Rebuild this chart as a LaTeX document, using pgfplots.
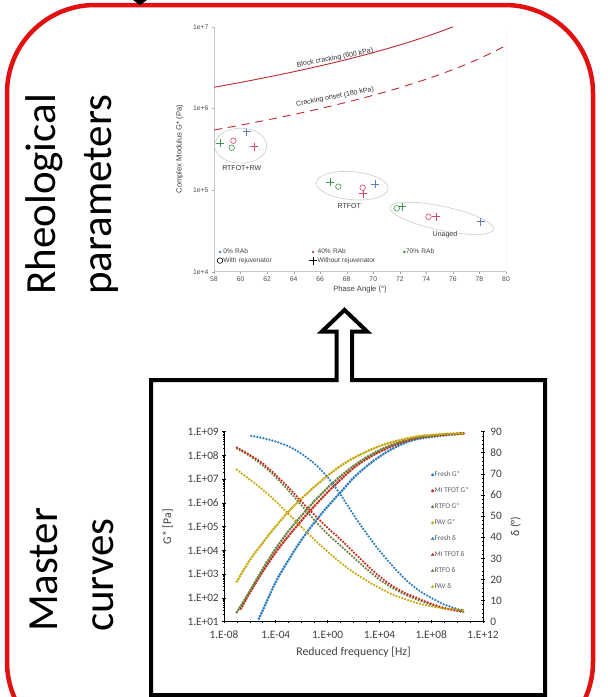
\documentclass[border=0pt]{standalone}
\usepackage{pgfplots}
\pgfplotsset{compat=1.18}
\usepackage{fontspec}
\setmainfont{Carlito}
\newfontfamily\arialf{Liberation Sans}
\definecolor{framered}{RGB}{226,16,16}
\definecolor{crack}{RGB}{192,40,46}
\definecolor{rbblue}{RGB}{96,124,196}
\definecolor{rbred}{RGB}{214,72,100}
\definecolor{rbgreen}{RGB}{62,150,76}
\definecolor{cfresh}{RGB}{46,125,192}
\definecolor{cmi}{RGB}{200,40,30}
\definecolor{crtfo}{RGB}{104,128,60}
\definecolor{cpav}{RGB}{200,168,10}
\pgfplotsset{
  gstar/.style={smooth, line width=3pt, line cap=round, dash pattern=on 0pt off 2.9pt},
  delta/.style={smooth, line width=2.5pt, line cap=round, dash pattern=on 0pt off 3.1pt},
}
\begin{document}
\begin{tikzpicture}
\useasboundingbox (0,0) rectangle (608pt,-697pt);
\fill[white] (0,0) rectangle (608pt,-697pt);
\begin{scope}
\clip (0,0) rectangle (608pt,-697pt);
\draw[framered, line width=4.5pt, rounded corners=88pt] (7pt,-5pt) rectangle (593pt,-750pt);
\fill (133pt,0pt) -- (147pt,0pt) -- (140pt,-5pt) -- cycle;
\end{scope}

% big titles
\node[rotate=90, anchor=base west, inner sep=0pt, font=\fontsize{43}{50}\selectfont] at (55pt,-295pt) {Rheological};
\node[rotate=90, anchor=base west, inner sep=0pt, font=\fontsize{43}{50}\selectfont] at (111pt,-295pt) {parameters};
\node[rotate=90, anchor=base west, inner sep=0pt, font=\fontsize{43}{50}\selectfont] at (57pt,-632pt) {Master};
\node[rotate=90, anchor=base west, inner sep=0pt, font=\fontsize{43}{50}\selectfont] at (113pt,-632pt) {curves};

% box with hollow arrow
\draw[line width=4pt, line join=miter] (151pt,-380pt) -- (336.7pt,-380pt) -- (336.7pt,-331.7pt) -- (321.7pt,-331.7pt) -- (344.5pt,-310pt) -- (367.3pt,-331.7pt) -- (352pt,-331.7pt) -- (352pt,-380pt) -- (545pt,-380pt) -- (545pt,-695pt) -- (151pt,-695pt) -- cycle;

% ---------------- top chart ----------------
\begin{axis}[
  at={(214pt,-271.7pt)}, anchor=south west,
  width=292pt, height=245pt, scale only axis,
  xmin=58, xmax=80, ymin=1e4, ymax=1e7, ymode=log,
  xtick={58,60,...,80}, ytick={1e4,1e5,1e6,1e7},
  yticklabels={1e+4,1e+5,1e+6,1e+7}, yminorticks=false,
  axis x line*=bottom, axis y line*=left,
  axis line style={-, draw=black!22, line width=0.6pt},
  tick style={draw=black!35}, major tick length=2pt, tick align=outside,
  ticklabel style={font=\arialf\fontsize{6.8}{7.5}\selectfont, text=black!70},
  /pgf/number format/assume math mode=true,
  xlabel={Phase Angle (°)}, ylabel={Complex Modulus G* (Pa)},
  label style={font=\arialf\fontsize{7.6}{8.5}\selectfont, text=black!75},
  ylabel shift=3pt, xlabel shift=-2.5pt,
  legend style={at={(0.0,0.02)}, anchor=south west, draw=none, fill=none,
    legend columns=3, font=\arialf\fontsize{6.6}{7.5}\selectfont, text=black!75,
    nodes={inner sep=0.6pt, text width=85pt, text height=4.6pt, text depth=1.2pt},
    row sep=1.2pt, column sep=0pt},
  legend cell align=left,
  legend image code/.code={\draw[mark repeat=2,mark phase=2,#1] plot coordinates {(0cm,0cm) (0.12cm,0cm) (0.24cm,0cm)};},
]
\addlegendimage{only marks, mark=*, mark size=1.1pt, color=rbblue}
\addlegendimage{only marks, mark=*, mark size=1.1pt, color=rbred}
\addlegendimage{only marks, mark=*, mark size=1.1pt, color=rbgreen}
\addlegendimage{only marks, mark=o, mark size=2.8pt, black, line width=0.6pt}
\addlegendimage{only marks, mark=+, mark size=4pt, black, line width=0.6pt}
\legend{0\% RAb, 40\% RAb, 70\% RAb, With rejuvenator, Without rejuvenator}
\draw[black!22, line width=0.6pt] (rel axis cs:1,0) -- (rel axis cs:1,1);
% block cracking 600 kPa
\addplot[crack, line width=0.9pt] coordinates {
(58,1.812e6) (59,1.939e6) (60,2.078e6) (61,2.233e6) (62,2.404e6) (63,2.594e6)
(64,2.806e6) (65,3.045e6) (66,3.313e6) (67,3.618e6) (68,3.964e6) (69,4.362e6)
(70,4.820e6) (71,5.352e6) (72,5.976e6) (73,6.712e6) (74,7.591e6) (75,8.651e6) (76,9.947e6)};
% cracking onset 180 kPa
\addplot[crack, line width=0.9pt, dash pattern=on 8pt off 6pt] coordinates {
(58,5.436e5) (59,5.816e5) (60,6.235e5) (61,6.698e5) (62,7.211e5) (63,7.781e5)
(64,8.419e5) (65,9.134e5) (66,9.939e5) (67,1.0853e6) (68,1.1893e6) (69,1.3085e6)
(70,1.4459e6) (71,1.6056e6) (72,1.7928e6) (73,2.0137e6) (74,2.2774e6) (75,2.5954e6)
(76,2.984e6) (77,3.466e6) (78,4.073e6) (79,4.853e6) (80,5.879e6)};
% points
\addplot[only marks, mark=+, mark size=4pt, rbblue, line width=0.6pt] coordinates {(60.46,5.18e5) (70.14,1.17e5) (78.1,4.1e4)};
\addplot[only marks, mark=+, mark size=4pt, rbred, line width=0.6pt] coordinates {(61.0,3.39e5) (69.26,9.0e4) (74.73,4.71e4)};
\addplot[only marks, mark=o, mark size=2.8pt, rbred, line width=0.6pt] coordinates {(59.46,4.02e5) (69.2,1.07e5) (74.16,4.71e4)};
\addplot[only marks, mark=+, mark size=4pt, rbgreen, line width=0.6pt] coordinates {(58.45,3.73e5) (66.74,1.26e5) (72.2,6.25e4)};
\addplot[only marks, mark=o, mark size=2.8pt, rbgreen, line width=0.6pt] coordinates {(59.33,3.3e5) (67.37,1.1e5) (71.77,5.97e4)};
\end{axis}

% top chart annotations
\draw[black!20, line width=0.6pt] (240.7pt,-145.7pt) ellipse [x radius=26pt, y radius=17.5pt];
\draw[black!20, line width=0.6pt, rotate around={-5:(352.3pt,-185.7pt)}] (352.3pt,-185.7pt) ellipse [x radius=36pt, y radius=14pt];
\draw[black!20, line width=0.6pt, rotate around={-12:(441.7pt,-218.3pt)}] (441.7pt,-218.3pt) ellipse [x radius=53pt, y radius=12pt];
\node[font=\arialf\fontsize{7}{8}\selectfont, text=black!80] at (241.7pt,-168.3pt) {RTFOT+RW};
\node[font=\arialf\fontsize{7}{8}\selectfont, text=black!80] at (349.3pt,-205.7pt) {RTFOT};
\node[font=\arialf\fontsize{7}{8}\selectfont, text=black!80] at (445pt,-235pt) {Unaged};
\node[font=\arialf\fontsize{7}{8}\selectfont, text=black!80, rotate=11] at (335pt,-58pt) {Block cracking (600 kPa)};
\node[font=\arialf\fontsize{7}{8}\selectfont, text=black!80, rotate=11] at (335pt,-97pt) {Cracking onset (180 kPa)};

% ---------------- bottom chart ----------------
\begin{axis}[
  at={(224pt,-621.7pt)}, anchor=south west,
  width=259pt, height=190pt, scale only axis,
  xmode=log, xmin=1e-8, xmax=1e12, ymin=1, ymax=9,
  xtick={1e-8,1e-4,1,1e4,1e8,1e12},
  xticklabels={1.E-08,1.E-04,1.E+00,1.E+04,1.E+08,1.E+12},
  minor xtick={1e-7,1e-6,1e-5,1e-3,1e-2,1e-1,10,100,1000,1e5,1e6,1e7,1e9,1e10,1e11},
  ytick={1,2,3,4,5,6,7,8,9},
  yticklabels={1.E+01,1.E+02,1.E+03,1.E+04,1.E+05,1.E+06,1.E+07,1.E+08,1.E+09},
  minor ytick={1.301,1.477,1.602,1.699,1.778,1.845,1.903,1.954,2.301,2.477,2.602,2.699,2.778,2.845,2.903,2.954,3.301,3.477,3.602,3.699,3.778,3.845,3.903,3.954,4.301,4.477,4.602,4.699,4.778,4.845,4.903,4.954,5.301,5.477,5.602,5.699,5.778,5.845,5.903,5.954,6.301,6.477,6.602,6.699,6.778,6.845,6.903,6.954,7.301,7.477,7.602,7.699,7.778,7.845,7.903,7.954,8.301,8.477,8.602,8.699,8.778,8.845,8.903,8.954},
  axis x line*=bottom, axis y line*=left,
  axis line style={-, black, line width=0.8pt},
  tick style={black, line width=0.7pt}, major tick length=3.5pt, minor tick length=2.2pt, tick align=center,
  ticklabel style={font=\fontsize{11.3}{12}\selectfont, text=black!75},
  xticklabel style={yshift=-4pt},
  xlabel={Reduced frequency [Hz]}, ylabel={G* [Pa]},
  label style={font=\fontsize{11.8}{13}\selectfont, text=black!75},
  ylabel shift=8pt, xlabel shift=1pt,
]
\addplot[gstar, cfresh] coordinates {(5.01e-6,1.13) (1e-5,1.49) (1e-4,2.68) (1e-3,3.61) (1e-2,4.46) (1e-1,5.19) (1,5.85) (10,6.45) (100,7.06) (1e3,7.54) (1e4,7.95) (1e5,8.28) (1e6,8.54) (1e7,8.70) (1e8,8.78) (1e9,8.85) (1e10,8.90) (3.16e10,8.93)};
\addplot[gstar, cmi] coordinates {(2e-7,1.55) (1e-6,2.23) (1e-5,3.12) (1e-4,3.92) (1e-3,4.62) (1e-2,5.27) (1e-1,5.88) (1,6.45) (10,6.98) (100,7.47) (1e3,7.85) (1e4,8.15) (1e5,8.40) (1e6,8.60) (1e7,8.75) (1e8,8.82) (1e9,8.87) (1e10,8.91) (3.16e10,8.93)};
\addplot[gstar, crtfo] coordinates {(1e-7,1.40) (1e-6,2.30) (1e-5,3.23) (1e-4,4.08) (1e-3,4.83) (1e-2,5.48) (1e-1,6.09) (1,6.64) (10,7.13) (100,7.56) (1e3,7.92) (1e4,8.22) (1e5,8.46) (1e6,8.64) (1e7,8.78) (1e8,8.83) (1e9,8.88) (1e10,8.91) (3.16e10,8.93)};
\addplot[gstar, cpav] coordinates {(1e-7,2.70) (1e-6,3.60) (1e-5,4.33) (1e-4,5.02) (1e-3,5.65) (1e-2,6.19) (1e-1,6.69) (1,7.15) (10,7.56) (100,7.89) (1e3,8.16) (1e4,8.39) (1e5,8.57) (1e6,8.70) (1e7,8.81) (1e8,8.86) (1e9,8.90) (1e10,8.92) (3.16e10,8.94)};
\end{axis}

\begin{axis}[
  at={(224pt,-621.7pt)}, anchor=south west,
  width=259pt, height=190pt, scale only axis,
  xmode=log, xmin=1e-8, xmax=1e12, ymin=0, ymax=90,
  axis x line=none, axis y line*=right,
  axis line style={-, black, line width=0.8pt},
  ytick={0,10,...,90}, minor y tick num=4,
  tick style={black, line width=0.7pt}, major tick length=3.5pt, minor tick length=2.2pt, tick align=center,
  ticklabel style={font=\fontsize{11.3}{12}\selectfont, text=black!75},
  yticklabel style={xshift=2pt},
  /pgf/number format/assume math mode=true,
  ylabel={δ (°)}, ylabel shift=2pt,
  label style={font=\fontsize{11.8}{13}\selectfont, text=black!75},
  legend style={at={(0.788,0.804)}, anchor=north west, draw=none, fill=none,
    font=\fontsize{7.2}{8}\selectfont, text=black!65,
    nodes={inner sep=0.6pt, text height=4.9pt, text depth=1.4pt}, row sep=8.5pt},
  legend cell align=left,
  legend image code/.code={\draw[mark repeat=2,mark phase=2,#1] plot coordinates {(0cm,0cm) (0.06cm,0cm) (0.12cm,0cm)};},
]
\addlegendimage{only marks, mark=*, mark size=1.3pt, cfresh}
\addlegendimage{only marks, mark=*, mark size=1.3pt, cmi}
\addlegendimage{only marks, mark=*, mark size=1.3pt, crtfo}
\addlegendimage{only marks, mark=*, mark size=1.3pt, cpav}
\addlegendimage{only marks, mark=triangle*, mark size=1.6pt, cfresh}
\addlegendimage{only marks, mark=triangle*, mark size=1.6pt, cmi}
\addlegendimage{only marks, mark=triangle*, mark size=1.6pt, crtfo}
\addlegendimage{only marks, mark=triangle*, mark size=1.6pt, cpav}
\legend{Fresh G*, MI TFOT G*, RTFO G*, PAV G*, Fresh δ, MI TFOT δ, RTFO δ, PAV δ}
\addplot[delta, cfresh] coordinates {(1.26e-6,88) (1e-5,87) (1e-4,85.3) (1e-3,83.0) (1e-2,79.5) (1e-1,74.8) (1,68.5) (10,60.2) (100,50.7) (1e3,41.8) (1e4,33.7) (1e5,26.5) (1e6,20.1) (1e7,15.0) (1e8,11.3) (1e9,8.2) (1e10,6.0) (3.16e10,5.2)};
\addplot[delta, crtfo] coordinates {(1e-7,82) (1e-6,78.5) (1e-5,74) (1e-4,68.5) (1e-3,62) (1e-2,55) (1e-1,48) (1,41.5) (10,36) (100,30.5) (1e3,25) (1e4,20) (1e5,16) (1e6,12.8) (1e7,10.3) (1e8,8.1) (1e9,6.3) (1e10,5.1) (3.16e10,4.6)};
\addplot[delta, cmi] coordinates {(1e-7,82.5) (1e-6,79) (1e-5,75) (1e-4,69.5) (1e-3,63.5) (1e-2,56.8) (1e-1,50.5) (1,44.5) (10,39) (100,33) (1e3,27) (1e4,21.5) (1e5,17) (1e6,13.5) (1e7,11) (1e8,8.5) (1e9,6.5) (1e10,5.2) (3.16e10,4.7)};
\addplot[delta, cpav] coordinates {(1e-7,72) (1e-6,67.3) (1e-5,62.5) (1e-4,57) (1e-3,51) (1e-2,44.7) (1e-1,38.8) (1,33.2) (10,28) (100,23.4) (1e3,19.5) (1e4,16) (1e5,13) (1e6,10.6) (1e7,8.7) (1e8,7.3) (1e9,6.3) (1e10,5.7) (3.16e10,5.5)};
\end{axis}
\end{tikzpicture}
\end{document}
